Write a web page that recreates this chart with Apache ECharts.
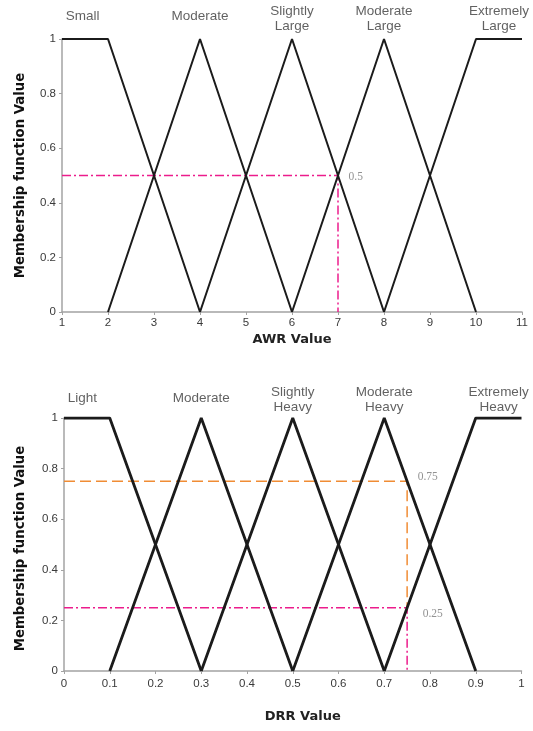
<!DOCTYPE html>
<html>
<head>
<meta charset="utf-8">
<script src="https://cdn.jsdelivr.net/npm/echarts@6/dist/echarts.min.js"></script>
<style>
html,body{margin:0;padding:0;background:#fff;}
#c{width:533px;height:731px;}
</style>
</head>
<body>
<div id="c"></div>
<script>
// ---- AWR (top chart) ----
const awrNames = ['Small', 'Moderate', 'Slightly\nLarge', 'Moderate\nLarge', 'Extremely\nLarge'];
const awrNameX = [1.45, 4, 6, 8, 10.5];
const awrSmall = [[1, 1], [2, 1], [4, 0]];
const awrModerate = [[2, 0], [4, 1], [6, 0]];
const awrSlightly = [[4, 0], [6, 1], [8, 0]];
const awrModLarge = [[6, 0], [8, 1], [10, 0]];
const awrExtreme = [[8, 0], [10, 1], [11, 1]];
const awrGuide = [[1, 0.5], [7, 0.5], [7, 0]];
const awrGuideLabel = [[7, 0.5, '0.5']];

// ---- DRR (bottom chart) ----
const drrNames = ['Light', 'Moderate', 'Slightly\nHeavy', 'Moderate\nHeavy', 'Extremely\nHeavy'];
const drrNameX = [0.04, 0.3, 0.5, 0.7, 0.95];
const drrLight = [[0, 1], [0.1, 1], [0.3, 0]];
const drrModerate = [[0.1, 0], [0.3, 1], [0.5, 0]];
const drrSlightly = [[0.3, 0], [0.5, 1], [0.7, 0]];
const drrModHeavy = [[0.5, 0], [0.7, 1], [0.9, 0]];
const drrExtreme = [[0.7, 0], [0.9, 1], [1, 1]];
const drrGuideOrange = [[0, 0.75], [0.75, 0.75], [0.75, 0.25]];
const drrGuidePink = [[0, 0.25], [0.75, 0.25], [0.75, 0]];
const drrGuideLabels = [[0.75, 0.75, '0.75'], [0.75, 0.25, '0.25']];

const PINK = '#ec1c8c';
const ORANGE = '#f08c34';
const AXIS = '#a3a3a3';
const TXT = '#3a3a3a';

function mfLine(data, xi, w) {
  return {
    type: 'line', data: data, xAxisIndex: xi, yAxisIndex: xi,
    symbol: 'none', silent: true, animation: false,
    lineStyle: { color: '#1b1b1b', width: w }
  };
}
function guide(data, xi, color, dash) {
  return {
    type: 'line', data: data, xAxisIndex: xi, yAxisIndex: xi,
    symbol: 'none', silent: true, animation: false, z: 1,
    lineStyle: { color: color, width: 1.5, type: dash }
  };
}
function nameSeries(names, xs, xi, d1, d2) {
  return {
    type: 'scatter', xAxisIndex: xi, yAxisIndex: xi, silent: true, animation: false,
    symbolSize: 1, itemStyle: { color: 'rgba(0,0,0,0)' },
    data: names.map((n, i) => ({
      name: n, value: [xs[i], 1],
      label: { distance: n.indexOf('\n') >= 0 ? d2 : d1 }
    })),
    label: {
      show: true, position: 'top', formatter: '{b}',
      fontFamily: 'Liberation Sans, Arial, sans-serif', fontSize: 13.5,
      color: TXT, lineHeight: 15, align: 'center'
    }
  };
}
function valueLabels(data, xi, offsets, dist) {
  return {
    type: 'scatter', xAxisIndex: xi, yAxisIndex: xi, silent: true, animation: false,
    symbolSize: 1, itemStyle: { color: 'rgba(0,0,0,0)' },
    data: data.map((d, i) => ({
      value: [d[0], d[1]], name: d[2],
      label: { offset: offsets[i], distance: dist[i] }
    })),
    label: {
      show: true, position: 'right', formatter: '{b}',
      fontFamily: 'Liberation Serif, Times New Roman, serif', fontSize: 11.5,
      color: '#777'
    }
  };
}
function xAxis(gi, min, max, interval, name, gap, pad, margin) {
  return {
    type: 'value', gridIndex: gi, min: min, max: max, interval: interval,
    name: name, nameLocation: 'middle', nameGap: gap,
    nameTextStyle: { fontFamily: 'DejaVu Sans, sans-serif', fontWeight: 'bold', fontSize: 13, color: '#222', padding: pad },
    axisLine: { show: true, onZero: false, lineStyle: { color: AXIS, width: 1.5 } },
    axisTick: { show: true, length: 3, lineStyle: { color: AXIS } },
    axisLabel: { fontFamily: 'Liberation Sans, Arial, sans-serif', fontSize: 11.5, color: TXT, margin: margin },
    splitLine: { show: false }
  };
}
function yAxis(gi, gap, pad) {
  return {
    type: 'value', gridIndex: gi, min: 0, max: 1, interval: 0.2,
    name: 'Membership function Value', nameLocation: 'middle', nameGap: gap, nameRotate: 90,
    nameTextStyle: { fontFamily: 'DejaVu Sans, sans-serif', fontWeight: 'bold', fontSize: 13.3, color: '#111', padding: pad },
    axisLine: { show: true, onZero: false, lineStyle: { color: AXIS, width: 1.5 } },
    axisTick: { show: true, length: 3, lineStyle: { color: AXIS } },
    axisLabel: { fontFamily: 'Liberation Sans, Arial, sans-serif', fontSize: 11.5, color: TXT, margin: 6 },
    splitLine: { show: false }
  };
}

const chart = echarts.init(document.getElementById('c'), null, { renderer: 'canvas' });
chart.setOption({
  animation: false,
  backgroundColor: '#fff',
  grid: [
    { left: 62, top: 39, width: 460, height: 273 },
    { left: 64, top: 418, width: 457.5, height: 253 }
  ],
  xAxis: [
    xAxis(0, 1, 11, 1, 'AWR Value', 21, [0, 0, 0, 0], 5),
    xAxis(1, 0, 1, 0.1, 'DRR Value', 39, [0, 0, 0, 20], 7)
  ],
  yAxis: [yAxis(0, 35, [0, 0, 0, 0]), yAxis(1, 37, [0, 8, 0, 0])],
  series: [
    guide(awrGuide, 0, PINK, [9, 3, 2, 3]),
    mfLine(awrSmall, 0, 2),
    mfLine(awrModerate, 0, 2),
    mfLine(awrSlightly, 0, 2),
    mfLine(awrModLarge, 0, 2),
    mfLine(awrExtreme, 0, 2),
    nameSeries(awrNames, awrNameX, 0, 15, 5),
    valueLabels(awrGuideLabel, 0, [[0, 1]], [10]),

    guide(drrGuideOrange, 1, ORANGE, [11, 5]),
    guide(drrGuidePink, 1, PINK, [9, 3, 2, 3]),
    mfLine(drrLight, 1, 2.8),
    mfLine(drrModerate, 1, 2.8),
    mfLine(drrSlightly, 1, 2.8),
    mfLine(drrModHeavy, 1, 2.8),
    mfLine(drrExtreme, 1, 2.8),
    nameSeries(drrNames, drrNameX, 1, 12, 3),
    valueLabels(drrGuideLabels, 1, [[0, -4], [0, 6]], [10, 15])
  ]
});
</script>
</body>
</html>
